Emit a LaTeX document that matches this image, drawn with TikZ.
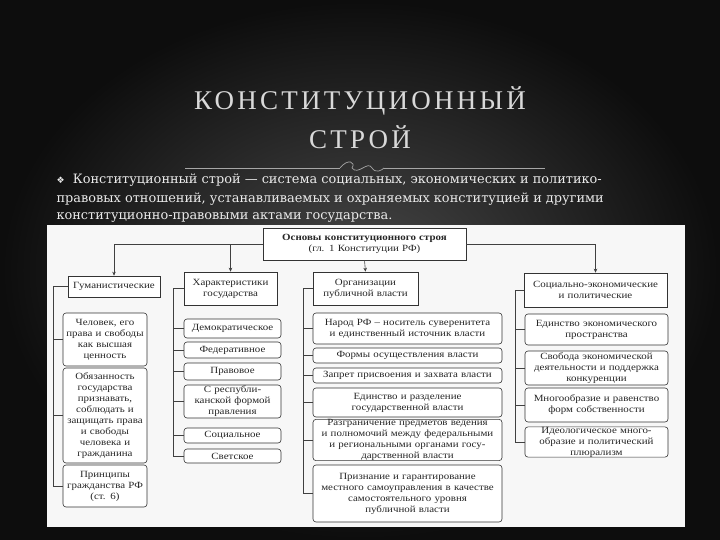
\documentclass[tikz,border=0pt]{standalone}
\usepackage{fontspec}
\setmainfont{Liberation Serif}
\newfontfamily\dejavu{DejaVu Sans}
\newfontfamily\dvserif{DejaVu Serif}
\newfontfamily\wide[FakeStretch=1.15]{Liberation Serif}
\usetikzlibrary{arrows.meta}
\newcommand\bx[7]{%
  \pgfmathsetmacro\bw{#4-#2}\pgfmathsetmacro\bh{#5-#3}%
  \node[#6, text width=\bw pt, minimum height=\bh pt] (#1) at ({(#2+#4)/2},{(#3+#5)/2}) {#7};}
\begin{document}
\begin{tikzpicture}[x=1pt,y=-1pt,
  base/.style={draw=black!80, line width=0.6pt, fill=white, align=center, inner xsep=0pt, inner ysep=0pt,
     font=\wide\fontsize{9.5}{11}\selectfont, text=black!85},
  hdr/.style={base},
  itm/.style={base, rounded corners=3pt},
  ln/.style={draw=black!75, line width=0.6pt},
  arr/.style={ln, -{Stealth[length=4pt,width=3.5pt]}},
  para/.style={anchor=west, text=black!8, font=\dvserif\fontsize{12.9}{14}\selectfont}]
\useasboundingbox (0,0) rectangle (720,540);
\shade[inner color=black!72, outer color=black!95] (0,0) rectangle (720,540);
% title
\node[text=black!15, font=\fontsize{27}{30}\selectfont\addfontfeatures{LetterSpace=12}] (t1) at (360,101) {КОНСТИТУЦИОННЫЙ};
\node[text=black!15, font=\fontsize{27}{30}\selectfont\addfontfeatures{LetterSpace=12}] (t2) at (360,137) {СТРОЙ};
\draw[black!35, line width=0.5pt] (185,168) -- (340,168) (384,168) -- (545,168);
\draw[black!35, line width=0.7pt] (340,168) .. controls (348,158) and (356,162) .. (352,168) .. controls (358,176) and (368,160) .. (372,168) .. controls (376,174) and (382,170) .. (384,168);
% text
\node[para] (p1) at (53,180) {{\dejavu\fontsize{9}{10}\selectfont ❖}\ \ Конституционный строй — система социальных, экономических и политико-};
\node[para] (p2) at (53,199) {правовых отношений, устанавливаемых и охраняемых конституцией и другими};
\node[para] (p3) at (53,217) {конституционно-правовыми актами государства.};
% panel
\fill[white!97!black] (47,225) rectangle (685,527);
% top
\bx{T}{263}{228}{466}{260}{hdr}{\textbf{Основы конституционного строя}\\(гл. 1 Конституции РФ)}
% headers
\bx{H1}{68}{276}{160}{297}{hdr}{Гуманистические}
\bx{H2}{184}{272}{277}{305}{hdr}{Характеристики\\государства}
\bx{H3}{313}{272}{418}{305}{hdr}{Организации\\публичной власти}
\bx{H4}{524}{273}{667}{307}{hdr}{Социально-экономические\\и политические}
\draw[arr] (T.west) -| (H1.north);
\draw[arr] (T.west) -| (H2.north);
\draw[arr] (T.south) -- (H3.north);
\draw[arr] (T.east) -| (H4.north);
% col1
\bx{A1}{63}{313}{147}{366}{itm}{Человек, его\\права и свободы\\как высшая\\ценность}
\bx{A2}{63}{368}{147}{463}{itm}{Обязанность\\государства\\признавать,\\соблюдать и\\защищать права\\и свободы\\человека и\\гражданина}
\bx{A3}{63}{465}{147}{507}{itm}{Принципы\\гражданства РФ\\(ст. 6)}
% col2
\bx{B1}{184}{319}{281}{338}{itm}{Демократическое}
\bx{B2}{184}{342}{281}{358}{itm}{Федеративное}
\bx{B3}{184}{363}{281}{380}{itm}{Правовое}
\bx{B4}{184}{385}{281}{418}{itm}{С республи-\\канской формой\\правления}
\bx{B5}{184}{428}{281}{443}{itm}{Социальное}
\bx{B6}{184}{449}{281}{463}{itm}{Светское}
% col3
\bx{C1}{313}{313}{502}{344}{itm}{Народ РФ – носитель суверенитета\\и единственный источник власти}
\bx{C2}{313}{348}{502}{363}{itm}{Формы осуществления власти}
\bx{C3}{313}{368}{502}{383}{itm}{Запрет присвоения и захвата власти}
\bx{C4}{313}{388}{502}{417}{itm}{Единство и разделение\\государственной власти}
\bx{C5}{313}{420}{502}{460}{itm}{Разграничение предметов ведения\\и полномочий между федеральными\\и региональными органами госу-\\дарственной власти}
\bx{C6}{313}{465}{502}{522}{itm}{Признание и гарантирование\\местного самоуправления в качестве\\самостоятельного уровня\\публичной власти}
% col4
\bx{D1}{525}{314}{668}{345}{itm}{Единство экономического\\пространства}
\bx{D2}{525}{351}{668}{385}{itm}{Свобода экономической\\деятельности и поддержка\\конкуренции}
\bx{D3}{525}{388}{668}{422}{itm}{Многообразие и равенство\\форм собственности}
\bx{D4}{525}{427}{668}{457}{itm}{Идеологическое много-\\образие и политический\\плюрализм}
% branches
\coordinate (v1) at (53,0);
\coordinate (v2) at (173,0);
\coordinate (v3) at (303,0);
\coordinate (v4) at (515,0);
\draw[ln] (H1.west) -| (v1 |- A3.west) -- (A3.west);
\foreach \n in {A1,A2} \draw[ln] (v1 |- \n.west) -- (\n.west);
\draw[ln] (H2.west) -| (v2 |- B6.west) -- (B6.west);
\foreach \n in {B1,B2,B3,B4,B5} \draw[ln] (v2 |- \n.west) -- (\n.west);
\draw[ln] (H3.west) -| (v3 |- C6.west) -- (C6.west);
\foreach \n in {C1,C2,C3,C4,C5} \draw[ln] (v3 |- \n.west) -- (\n.west);
\draw[ln] (H4.west) -| (v4 |- D4.west) -- (D4.west);
\foreach \n in {D1,D2,D3} \draw[ln] (v4 |- \n.west) -- (\n.west);
\end{tikzpicture}
\end{document}
